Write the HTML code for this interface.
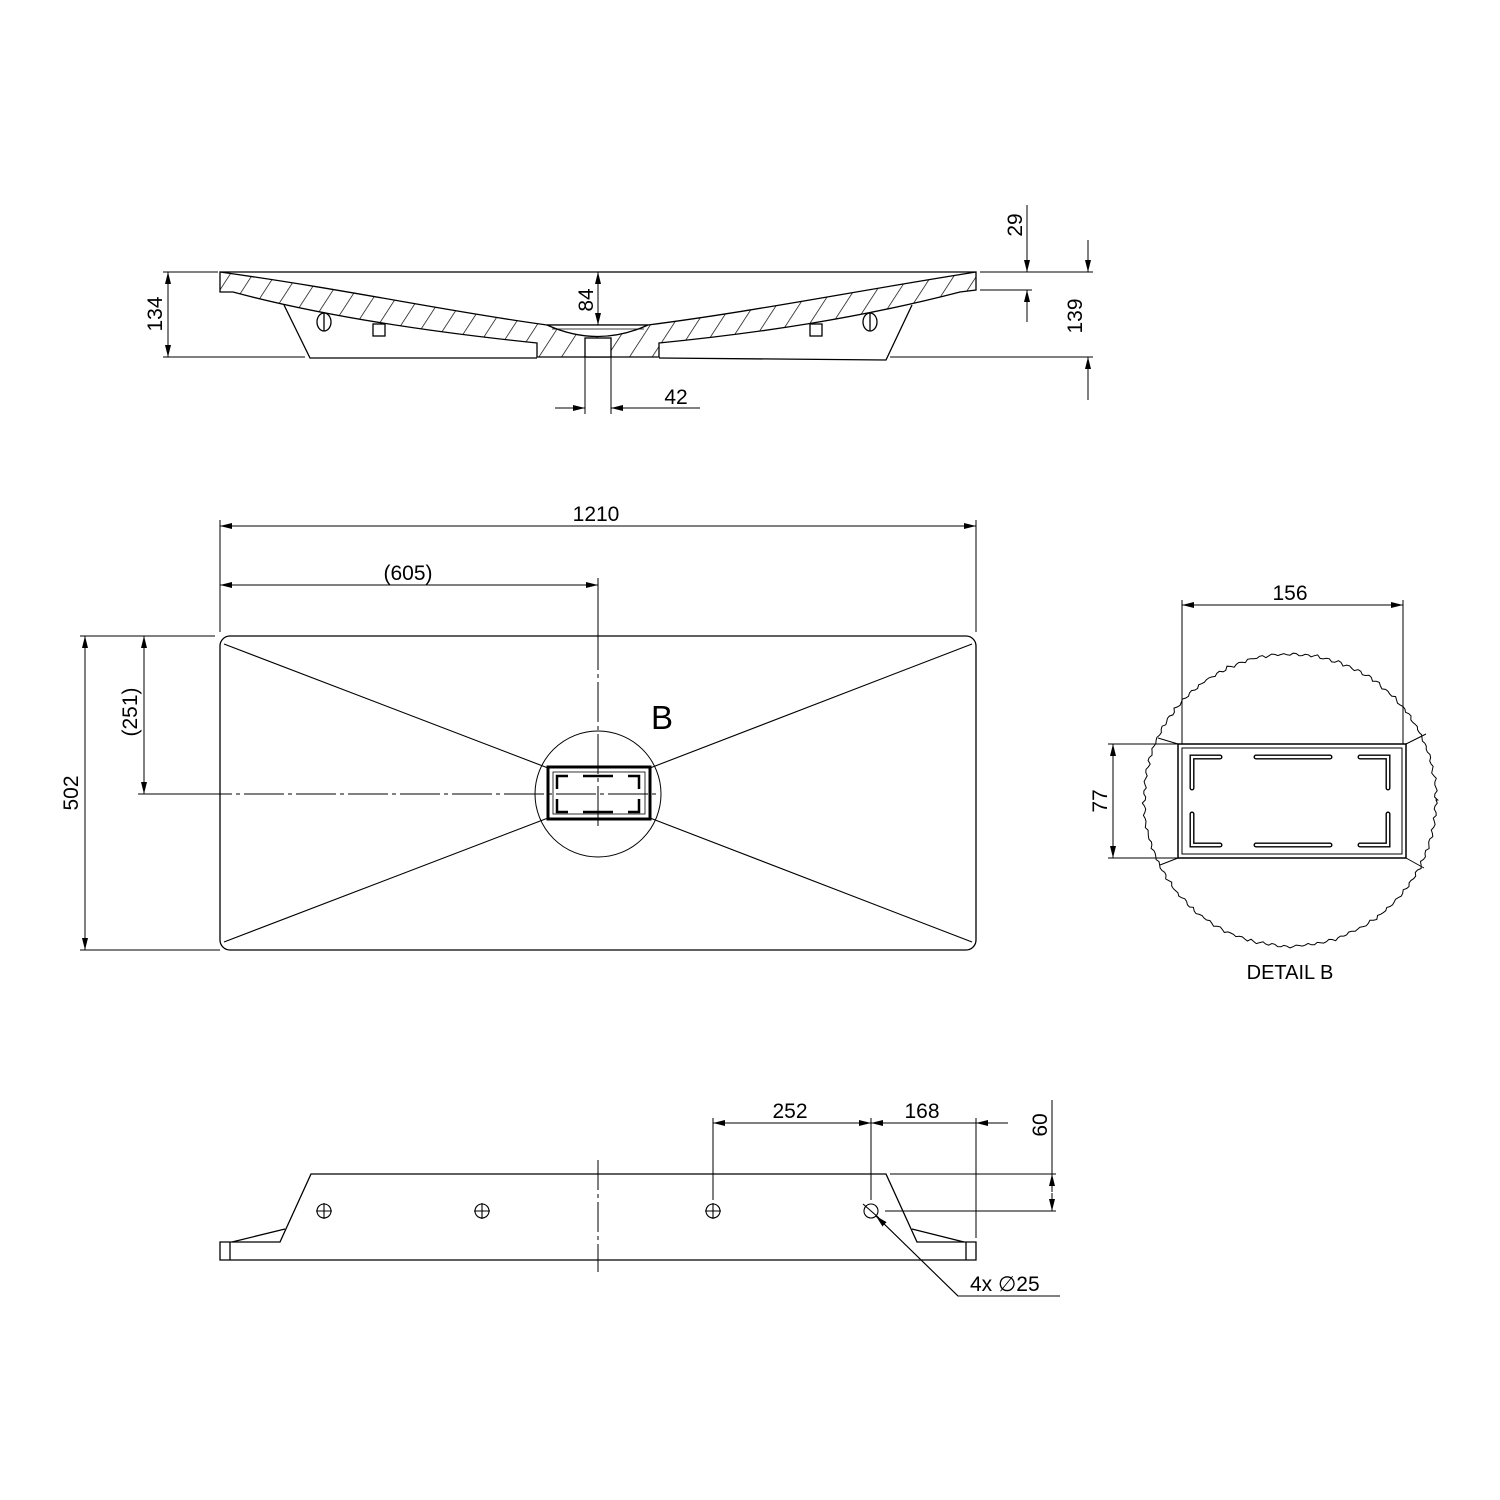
<!DOCTYPE html>
<html><head><meta charset="utf-8"><style>body{margin:0;background:#fff}svg{display:block}</style></head><body>
<svg width="1500" height="1500" viewBox="0 0 1500 1500" xmlns="http://www.w3.org/2000/svg" font-family="Liberation Sans, DejaVu Sans, sans-serif" fill="none" stroke="#000" stroke-width="1.3">
<defs>
<pattern id="h" width="19" height="19" patternUnits="userSpaceOnUse" patternTransform="rotate(33)"><line x1="0" y1="0" x2="0" y2="19" stroke="#000" stroke-width="1.4"/></pattern>
<marker id="a" viewBox="0 0 12 6" refX="12" refY="3" markerWidth="12" markerHeight="6" orient="auto-start-reverse" markerUnits="userSpaceOnUse"><path d="M0,0 L12,3 L0,6 Z" fill="#000" stroke="none"/></marker>
</defs>

<!-- TOP SECTION -->
<path d="M220,272 L976,272" />
<path d="M220,272 C350,290 450,312 547,325 L648,325 C750,312 850,292 976,272 L976,290 L960,292 C860,318 760,333 659,343 L659,357 L537,357 L537,343 C440,333 330,318 233,292 L220,292 Z" fill="url(#h)"/>
<path d="M547,325 L648,325 Q598,348 547,325 Z" fill="#fff"/>
<path d="M552,329 L644,329" stroke-width="0.8"/>
<rect x="585" y="338" width="26" height="19" fill="#fff"/>
<path d="M284,305 L310,358 L537,358 M659,358 L886,360 L912,305"/>
<ellipse cx="324" cy="322" rx="7" ry="9" fill="#fff"/><line x1="324" y1="313" x2="324" y2="331"/>
<ellipse cx="870" cy="322" rx="7" ry="9" fill="#fff"/><line x1="870" y1="313" x2="870" y2="331"/>
<rect x="373" y="324" width="12" height="12" fill="#fff"/>
<rect x="810" y="324" width="12" height="12" fill="#fff"/>
<!-- dims top -->
<g stroke-width="1">
<path d="M163,272 L218,272 M163,357 L305,357"/>
<line x1="168" y1="272" x2="168" y2="357" marker-start="url(#a)" marker-end="url(#a)"/>
<line x1="598" y1="272" x2="598" y2="325" marker-start="url(#a)" marker-end="url(#a)"/>
<path d="M980,272 L1093,272 M890,357 L1093,357 M980,290 L1032,290"/>
<line x1="1088" y1="240" x2="1088" y2="272" marker-end="url(#a)"/>
<line x1="1088" y1="400" x2="1088" y2="357" marker-end="url(#a)"/>
<line x1="1027" y1="205" x2="1027" y2="272" marker-end="url(#a)"/>
<line x1="1027" y1="322" x2="1027" y2="290" marker-end="url(#a)"/>
<path d="M585,357 L585,414 M611,357 L611,414"/>
<line x1="555" y1="408" x2="585" y2="408" marker-end="url(#a)"/>
<line x1="700" y1="408" x2="611" y2="408" marker-end="url(#a)"/>
</g>
<g fill="#000" stroke="none" font-size="21">
<text transform="translate(162,314) rotate(-90)" text-anchor="middle">134</text>
<text transform="translate(593,300) rotate(-90)" text-anchor="middle">84</text>
<text transform="translate(1082,316) rotate(-90)" text-anchor="middle">139</text>
<text transform="translate(1022,225) rotate(-90)" text-anchor="middle">29</text>
<text x="676" y="404" text-anchor="middle">42</text>
</g>

<!-- PLAN VIEW -->
<rect x="220" y="636" width="756" height="314" rx="10"/>
<path d="M224,644 L548,768 M972,644 L650,768 M224,942 L548,818 M972,942 L650,818" stroke-width="1.1"/>
<circle cx="598" cy="794" r="63" stroke-width="1"/>
<rect x="548" y="767" width="102" height="52" stroke-width="3"/>
<rect x="553" y="772" width="92" height="42" stroke-width="0.8"/>
<g stroke-width="2.5">
<path d="M568,776 L557,776 L557,789 M628,776 L639,776 L639,789 M568,812 L557,812 L557,799 M628,812 L639,812 L639,799 M583,776 L613,776 M583,812 L613,812"/>
</g>
<path d="M598,578 L598,826 M140,794 L660,794" stroke-width="1" stroke-dasharray="40,4,4,4"/>
<g stroke-width="1">
<path d="M220,520 L220,632 M976,520 L976,632 M598,580 L598,640 M80,636 L215,636 M80,950 L220,950 M138,794 L220,794"/>
<line x1="220" y1="526" x2="976" y2="526" marker-start="url(#a)" marker-end="url(#a)"/>
<line x1="220" y1="585" x2="598" y2="585" marker-start="url(#a)" marker-end="url(#a)"/>
<line x1="85" y1="636" x2="85" y2="950" marker-start="url(#a)" marker-end="url(#a)"/>
<line x1="144" y1="636" x2="144" y2="794" marker-start="url(#a)" marker-end="url(#a)"/>
</g>
<g fill="#000" stroke="none" font-size="21">
<text x="596" y="521" text-anchor="middle">1210</text>
<text x="408" y="580" text-anchor="middle">(605)</text>
<text transform="translate(78,793) rotate(-90)" text-anchor="middle">502</text>
<text transform="translate(137,712) rotate(-90)" text-anchor="middle">(251)</text>
<text x="662" y="729" text-anchor="middle" font-size="33">B</text>
</g>

<!-- DETAIL B -->
<circle id="fb" cx="1290" cy="800" r="147" stroke-width="1"/>
<path id="wv" stroke-width="1"/>
<rect x="1178" y="744" width="228" height="114" stroke-width="1.5" fill="#fff"/>
<rect x="1182" y="748" width="220" height="106" stroke-width="1"/>
<g stroke-width="5" stroke-linecap="round"><path d="M1220,757 L1192,757 L1192,788 M1360,757 L1388,757 L1388,788 M1220,845 L1192,845 L1192,814 M1360,845 L1388,845 L1388,814 M1256,757 L1330,757 M1256,845 L1330,845"/></g>
<g stroke-width="2.2" stroke="#fff" stroke-linecap="round"><path d="M1220,757 L1192,757 L1192,788 M1360,757 L1388,757 L1388,788 M1220,845 L1192,845 L1192,814 M1360,845 L1388,845 L1388,814 M1256,757 L1330,757 M1256,845 L1330,845"/></g>
<path d="M1178,744 L1158,738 M1406,744 L1426,734 M1178,858 L1160,865 M1406,858 L1424,868" stroke-width="1"/>
<g stroke-width="1">
<path d="M1182,600 L1182,744 M1403,600 L1403,744 M1108,744 L1178,744 M1108,858 L1178,858"/>
<line x1="1182" y1="605" x2="1403" y2="605" marker-start="url(#a)" marker-end="url(#a)"/>
<line x1="1113" y1="744" x2="1113" y2="858" marker-start="url(#a)" marker-end="url(#a)"/>
</g>
<g fill="#000" stroke="none" font-size="21">
<text x="1290" y="600" text-anchor="middle">156</text>
<text transform="translate(1107,801) rotate(-90)" text-anchor="middle">77</text>
<text x="1290" y="979" text-anchor="middle" font-size="20">DETAIL B</text>
</g>

<!-- BOTTOM VIEW -->
<path d="M220,1242 L220,1260 L976,1260 L976,1242 L917,1242 L886,1174 L311,1174 L280,1242 Z"/>
<path d="M230,1242 L230,1260 M966,1242 L966,1260 M232,1242 L285,1229 M964,1242 L912,1229"/>
<g stroke-width="1.1">
<circle cx="324" cy="1211" r="7"/><path d="M316,1211 L332,1211 M324,1203 L324,1219"/>
<circle cx="482" cy="1211" r="7"/><path d="M474,1211 L490,1211 M482,1203 L482,1219"/>
<circle cx="713" cy="1211" r="7"/><path d="M705,1211 L721,1211 M713,1203 L713,1219"/>
<circle cx="871" cy="1211" r="7"/><path d="M863,1204 L879,1218"/>
</g>
<path d="M598,1160 L598,1272" stroke-width="1" stroke-dasharray="30,4,4,4"/>
<g stroke-width="1">
<path d="M713,1118 L713,1200 M871,1118 L871,1200 M976,1118 L976,1238 M890,1174 L1056,1174 M885,1211 L1056,1211"/>
<line x1="713" y1="1123" x2="871" y2="1123" marker-start="url(#a)" marker-end="url(#a)"/>
<line x1="871" y1="1123" x2="976" y2="1123" marker-start="url(#a)"/>
<line x1="1008" y1="1123" x2="976" y2="1123" marker-end="url(#a)"/>
<line x1="1052" y1="1100" x2="1052" y2="1174"/>
<line x1="1052" y1="1192" x2="1052" y2="1174" marker-end="url(#a)"/>
<line x1="1052" y1="1193" x2="1052" y2="1211" marker-end="url(#a)"/>
<path d="M1060,1296 L958,1296 L876,1216"/>
<line x1="958" y1="1296" x2="876" y2="1216" marker-end="url(#a)"/>
</g>
<g fill="#000" stroke="none" font-size="21">
<text x="790" y="1118" text-anchor="middle">252</text>
<text x="922" y="1118" text-anchor="middle">168</text>
<text transform="translate(1047,1125) rotate(-90)" text-anchor="middle">60</text>
<text x="970" y="1291">4x  ∅25</text>
</g>
</svg>
<script>
(function(){var d="",n=300,s=7;for(var i=0;i<=n;i++){var t=i/n*2*Math.PI;s=(s*9301+49297)%233280;var r=146+1.2*Math.sin(i*1.7)+1.6*(s/233280-0.5);d+=(i?"L":"M")+(1290+r*Math.cos(t)).toFixed(1)+","+(800+r*Math.sin(t)).toFixed(1);}
document.getElementById("wv").setAttribute("d",d+"Z");var f=document.getElementById("fb");f.parentNode.removeChild(f);})();
</script>
</body></html>
